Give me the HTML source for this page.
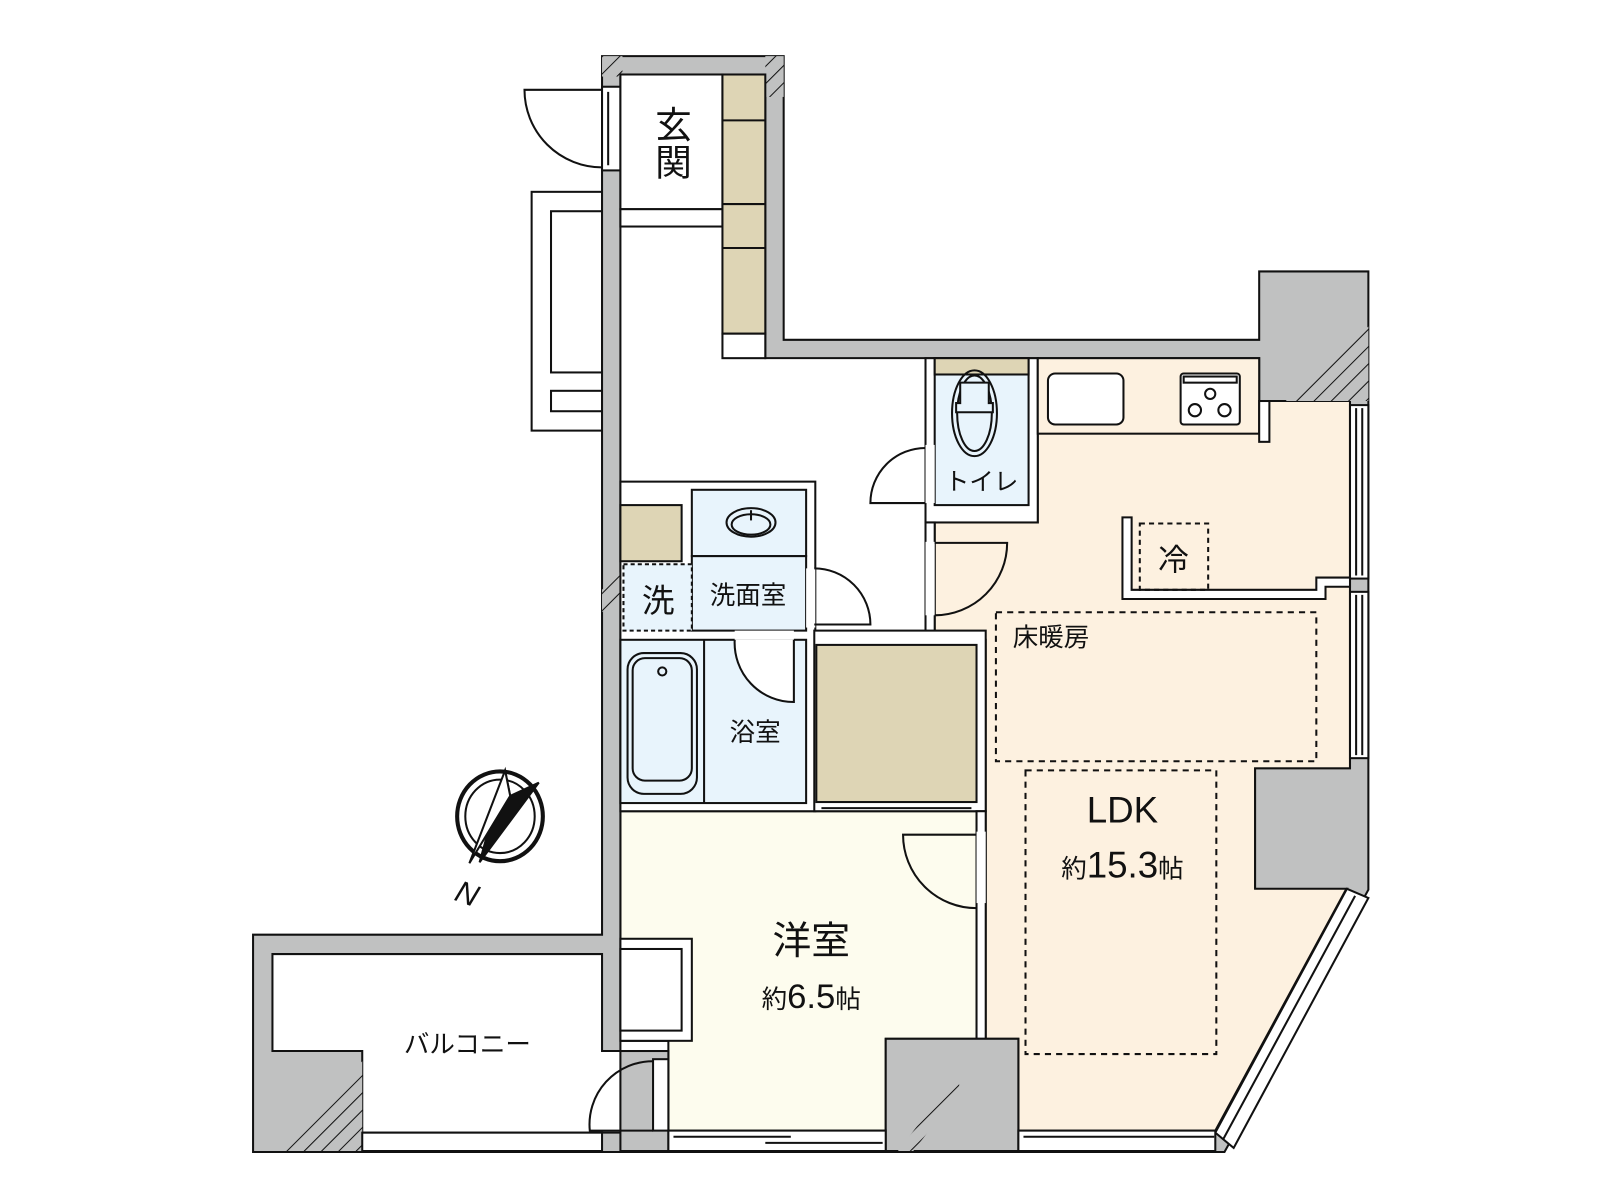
<!DOCTYPE html>
<html><head><meta charset="utf-8"><style>
html,body{margin:0;padding:0;background:#fff;}
svg{display:block;}
text{font-family:"Liberation Sans","Noto Sans CJK JP",sans-serif;fill:#111;}
</style></head><body>
<svg width="1600" height="1200" viewBox="0 0 1568 1176" xmlns="http://www.w3.org/2000/svg">
<defs>
<pattern id="h" width="12" height="12" patternUnits="userSpaceOnUse" patternTransform="rotate(45)">
<rect width="12" height="12" fill="#c0c1c1"/><line x1="0" y1="0" x2="0" y2="12" stroke="#111" stroke-width="2"/>
</pattern>
</defs>
<g stroke="#111" stroke-width="2">
<rect x="521" y="188" width="69" height="234" fill="#fff"/>
<rect x="540" y="207" width="50" height="158" fill="#fff"/>
<rect x="540" y="383" width="50" height="20" fill="#fff"/>

<polygon points="916,512 1017,512 1017,351 1234,351 1234,393 1323,393 1323,753 1230,753 1230,870 1320,870 1191,1108 998,1108 998,1018 966,1018 966,627 916,627" fill="#fdf1e0"/>
<polygon points="608,795 957,795 957,1018 868,1018 868,1108 655,1108 655,1020 608,1020" fill="#fdfcee"/>

<path d="M590,55 H768 V333 H1234 V266 H1341 V872 L1200,1129 H248 V916 H590 Z M608,73 V1030 H590 V935 H267 V1030 H355 V1110 H1191 L1320,871 H1230 V753 H1323 V393 H1234 V351 H750 V73 Z" fill="#c0c1c1" fill-rule="evenodd"/>
<rect x="590" y="55" width="20" height="20" fill="url(#h)" stroke="none"/>
<rect x="750" y="55" width="18" height="40" fill="url(#h)" stroke="none"/>
<polygon points="1260,393 1341,320 1341,393" fill="url(#h)" stroke="none"/>
<polygon points="267,1128 355,1040 355,1128" fill="url(#h)" stroke="none"/>
<polygon points="590,600 608,582 608,560 590,578" fill="url(#h)" stroke="none"/>
<rect x="590" y="85" width="18" height="82" fill="#fff"/>
<line x1="596" y1="90" x2="596" y2="162"/>
<path d="M590,88 H514 A76,76 0 0 0 590,164" fill="none"/>
<rect x="608" y="73" width="100" height="132" fill="#fff"/>
<rect x="608" y="205" width="100" height="17" fill="#fff"/>
<rect x="708" y="73" width="42" height="254" fill="#ded5b5"/>
<line x1="708" y1="118" x2="750" y2="118"/><line x1="708" y1="200" x2="750" y2="200"/><line x1="708" y1="243" x2="750" y2="243"/>
<rect x="708" y="327" width="42" height="24" fill="#fff"/>

<rect x="907" y="351" width="110" height="161" fill="#fff"/>
<rect x="916" y="351" width="92" height="144" fill="#e8f4fc"/>
<rect x="916" y="351" width="92" height="16" fill="#ded5b5"/>
<ellipse cx="955" cy="405" rx="22" ry="42" fill="none"/>
<ellipse cx="955" cy="405" rx="17" ry="37" fill="none"/>
<path d="M941,375 H969 V395 H973 V404 H937 V395 H941 Z" fill="#e8f4fc"/>
<rect x="907" y="436" width="9" height="57" fill="#fff" stroke="none"/>
<path d="M907,493 H853 A54,54 0 0 1 907,439" fill="none"/>
<rect x="907" y="512" width="9" height="115" fill="#fff"/>
<rect x="907" y="531" width="9" height="72" fill="#fff" stroke="none"/>
<path d="M916,532 H987 A71,71 0 0 1 916,603" fill="none"/>
<rect x="1017" y="351" width="217" height="74" fill="#fdf1e0"/>
<rect x="1027" y="366" width="74" height="50" rx="7" fill="#fff"/>
<rect x="1157" y="366" width="58" height="50" rx="3" fill="#fff"/>
<rect x="1160" y="369" width="52" height="6" fill="#fff"/>
<circle cx="1186" cy="386" r="5" fill="none"/><circle cx="1171" cy="402" r="6" fill="none"/><circle cx="1200" cy="402" r="6" fill="none"/>
<rect x="1234" y="393" width="10" height="40" fill="#fff"/>
<rect x="1323" y="397" width="18" height="170" fill="#fff"/>
<line x1="1329" y1="400" x2="1329" y2="564"/><line x1="1335" y1="400" x2="1335" y2="564"/>
<rect x="1323" y="580" width="18" height="163" fill="#fff"/>
<line x1="1329" y1="583" x2="1329" y2="740"/><line x1="1335" y1="583" x2="1335" y2="740"/>
<polygon points="1320,871 1341,880 1209,1125 1191,1110" fill="#fff"/>
<line x1="1328" y1="878" x2="1199" y2="1116"/>
<path d="M1100,507 H1109 V578 H1290 V566 H1323 V575 H1299 V587 H1100 Z" fill="#fff"/>
<rect x="1117" y="513" width="67" height="65" fill="none" stroke-dasharray="5,4"/>
<rect x="976" y="600" width="314" height="146" fill="none" stroke-dasharray="6,5"/>
<rect x="1005" y="755" width="187" height="278" fill="none" stroke-dasharray="6,5"/>

<rect x="608" y="472" width="191" height="323" fill="#fff"/>
<rect x="608" y="495" width="60" height="55" fill="#ded5b5"/>
<rect x="678" y="480" width="112" height="65" fill="#e8f4fc"/>
<ellipse cx="736" cy="512" rx="24" ry="14" fill="none"/><ellipse cx="736" cy="514" rx="19" ry="10" fill="none"/>
<line x1="736" y1="500" x2="736" y2="510"/>
<rect x="678" y="545" width="112" height="73" fill="#e8f4fc"/>
<rect x="611" y="553" width="67" height="65" fill="#e8f4fc" stroke-dasharray="4,3"/>
<rect x="790" y="557" width="9" height="58" fill="#fff" stroke="none"/>
<path d="M798,612 H853 A55,55 0 0 0 798,557" fill="none"/>
<rect x="608" y="627" width="182" height="160" fill="#e8f4fc"/>
<line x1="690" y1="627" x2="690" y2="787"/>
<rect x="615" y="640" width="68" height="138" rx="16" fill="none"/>
<rect x="620" y="645" width="58" height="120" rx="12" fill="none"/>
<circle cx="649" cy="658" r="4" fill="none"/>
<rect x="720" y="618" width="58" height="9" fill="#fff" stroke="none"/>
<path d="M778,627 V688 A58,58 0 0 1 720,627" fill="#fff"/>
<rect x="798" y="618" width="168" height="177" fill="#fff"/>
<rect x="800" y="632" width="157" height="154" fill="#ded5b5"/>
<line x1="805" y1="792" x2="952" y2="792"/>
<rect x="957" y="795" width="9" height="223" fill="#fff"/>
<rect x="957" y="815" width="9" height="70" fill="#fff" stroke="none"/>
<path d="M957,818 H885 A72,72 0 0 0 957,890" fill="none"/>
<rect x="608" y="920" width="70" height="100" fill="#fff"/>
<rect x="608" y="930" width="60" height="80" fill="#fff"/>
<rect x="868" y="1018" width="130" height="110" fill="#c0c1c1"/>
<polygon points="880,1128 940,1050 940,1070 895,1128" fill="url(#h)" stroke="none"/>
<rect x="608" y="1030" width="47" height="98" fill="#c0c1c1"/>
<rect x="640" y="1038" width="15" height="70" fill="#fff"/>
<path d="M640,1108 H578 A62,62 0 0 1 640,1040" fill="none"/>
<rect x="655" y="1108" width="213" height="20" fill="#fff"/>
<line x1="660" y1="1114" x2="775" y2="1114"/><line x1="750" y1="1120" x2="865" y2="1120"/>
<rect x="998" y="1108" width="193" height="20" fill="#fff"/>
<line x1="1003" y1="1114" x2="1190" y2="1114"/>
<rect x="355" y="1110" width="235" height="18" fill="#fff"/>
<ellipse cx="490" cy="800" rx="42" ry="44" fill="none" stroke-width="4"/>
<ellipse cx="490" cy="800" rx="34" ry="36" fill="none"/>
<polygon points="495,755 500,780 528,767 470,845" fill="#111"/>
<polygon points="495,755 500,780 460,846" fill="#fff"/>
</g>
<text x="447" y="885" font-size="30" font-style="italic" font-family="Liberation Serif" transform="rotate(20 455 875)">N</text>
<text x="660" y="135" font-size="36" text-anchor="middle">玄</text>
<text x="660" y="172" font-size="36" text-anchor="middle">関</text>
<text x="962" y="480" font-size="24" text-anchor="middle">トイレ</text>
<text x="1150" y="559" font-size="30" text-anchor="middle">冷</text>
<text x="1030" y="633" font-size="25" text-anchor="middle">床暖房</text>
<text x="645" y="600" font-size="32" text-anchor="middle">洗</text>
<text x="733" y="592" font-size="25" text-anchor="middle">洗面室</text>
<text x="740" y="726" font-size="25" text-anchor="middle">浴室</text>
<text x="1100" y="806" font-size="36" text-anchor="middle">LDK</text>
<text x="1100" y="860" text-anchor="middle"><tspan font-size="25">約</tspan><tspan font-size="36">15.3</tspan><tspan font-size="25">帖</tspan></text>
<text x="795" y="935" font-size="38" text-anchor="middle">洋室</text>
<text x="795" y="988" text-anchor="middle"><tspan font-size="25">約</tspan><tspan font-size="34">6.5</tspan><tspan font-size="25">帖</tspan></text>
<text x="458" y="1032" font-size="25" text-anchor="middle">バルコニー</text>
</svg>
</body></html>
